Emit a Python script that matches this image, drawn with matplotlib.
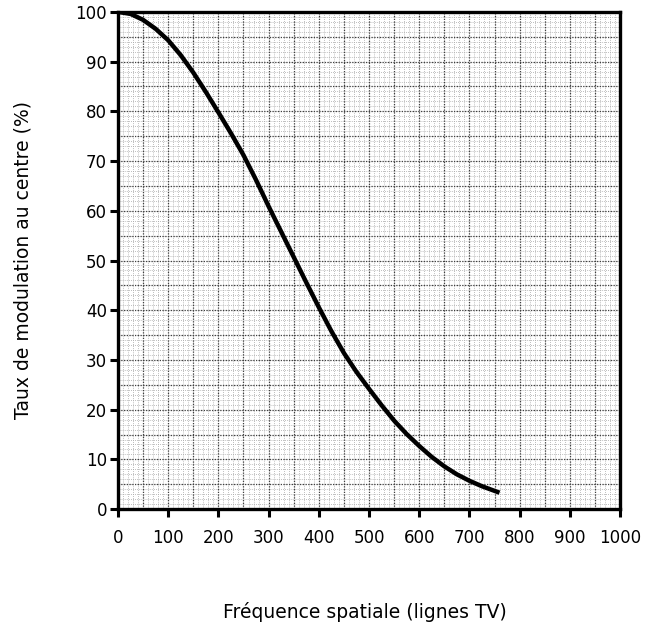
import numpy as np
import matplotlib
matplotlib.use("Agg")
import matplotlib.pyplot as plt

# valeurs
freq = [0, 25, 50, 75, 100, 125, 150, 175, 200, 225, 250, 275, 300, 325, 350, 375,
        400, 425, 450, 475, 500, 525, 550, 575, 600, 625, 650, 675, 700, 725, 760]
taux = [100, 99.6, 98.4, 96.6, 94.3, 91.3, 87.8, 83.9, 79.8, 75.6, 71.2, 66.2, 60.9, 55.8, 50.7, 45.6,
        40.6, 35.8, 31.4, 27.6, 24.2, 20.9, 17.8, 15.1, 12.7, 10.5, 8.6, 7.0, 5.7, 4.6, 3.3]

x_ticks = [0, 100, 200, 300, 400, 500, 600, 700, 800, 900, 1000]
y_ticks = [0, 10, 20, 30, 40, 50, 60, 70, 80, 90, 100]

plt.rcParams['font.family'] = ['DejaVu Sans']

fig = plt.figure(figsize=(6.61, 6.27), dpi=100)
ax = fig.add_axes([0.1785, 0.188, 0.7595, 0.793])

# papier millimétré
for v in np.arange(0, 1001, 10):
    ax.axvline(v, color='#a8a8a8', lw=0.6, ls=(0, (1, 1.5)), zorder=0)
for v in np.arange(0, 101, 1):
    ax.axhline(v, color='#a8a8a8', lw=0.6, ls=(0, (1, 1.5)), zorder=0)
for v in np.arange(0, 1001, 50):
    ax.axvline(v, color='#404040', lw=0.9, ls=(0, (1, 1.2)), zorder=0)
for v in np.arange(0, 101, 5):
    ax.axhline(v, color='#404040', lw=0.9, ls=(0, (1, 1.2)), zorder=0)

ax.plot(freq, taux, color='black', lw=3.2, solid_capstyle='butt', solid_joinstyle='round', zorder=3)

ax.set_xlim(0, 1000)
ax.set_ylim(0, 100)
ax.set_xticks(x_ticks)
ax.set_yticks(y_ticks)
ax.tick_params(direction='out', length=6, width=2.2, labelsize=12, pad=8)
ax.tick_params(axis='y', pad=2)
for s in ax.spines.values():
    s.set_linewidth(2.4)

fig.text(0.552, 0.024, 'Fréquence spatiale (lignes TV)', ha='center', va='center', fontsize=13.5)
fig.text(0.035, 0.585, 'Taux de modulation au centre (%)', ha='center', va='center',
         rotation=90, fontsize=13.5)

fig.savefig('out.png', dpi=100)
